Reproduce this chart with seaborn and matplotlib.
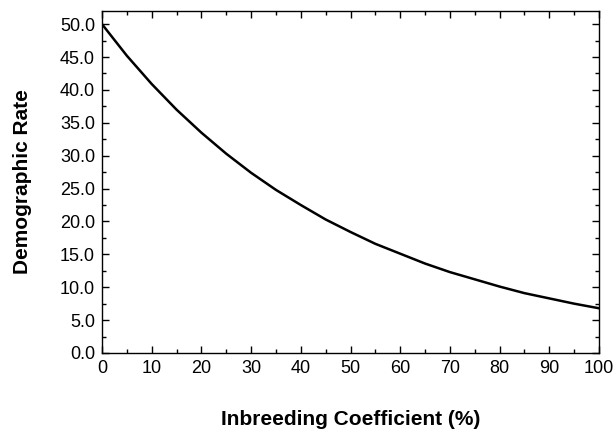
import matplotlib
matplotlib.use("Agg")
import matplotlib.pyplot as plt
import seaborn as sns
import pandas as pd
from matplotlib.ticker import MultipleLocator, FormatStrFormatter

inbreeding = [0, 5, 10, 15, 20, 25, 30, 35, 40, 45, 50, 55, 60, 65, 70, 75, 80, 85, 90, 95, 100]
rate = [50.0, 45.2, 40.9, 37.0, 33.5, 30.3, 27.4, 24.8, 22.5, 20.3, 18.4, 16.6, 15.1, 13.6,
        12.3, 11.2, 10.1, 9.1, 8.3, 7.5, 6.8]

df = pd.DataFrame({"Inbreeding Coefficient (%)": inbreeding, "Demographic Rate": rate})

sns.set_style("ticks")
plt.rcParams['font.family'] = ['Liberation Sans', 'DejaVu Sans']
plt.rcParams['text.color'] = 'black'
plt.rcParams['axes.labelcolor'] = 'black'
plt.rcParams['xtick.color'] = 'black'
plt.rcParams['ytick.color'] = 'black'

fig = plt.figure(figsize=(6.16, 4.32), dpi=100)
ax = fig.add_axes([0.1656, 0.1829, 0.8068, 0.7916])
sns.lineplot(data=df, x="Inbreeding Coefficient (%)", y="Demographic Rate", ax=ax,
             color="black", linewidth=1.8)

ax.set_xlim(0, 100)
ax.set_ylim(0, 52)
ax.xaxis.set_major_locator(MultipleLocator(10))
ax.xaxis.set_minor_locator(MultipleLocator(5))
ax.yaxis.set_major_locator(MultipleLocator(5))
ax.yaxis.set_minor_locator(MultipleLocator(2.5))
ax.yaxis.set_major_formatter(FormatStrFormatter("%.1f"))
ax.tick_params(which="both", direction="in", top=True, right=True, color="black",
               labelcolor="black")
ax.tick_params(which="major", length=5, width=1, labelsize=13, pad=5)
ax.tick_params(which="minor", length=3, width=1)
for s in ax.spines.values():
    s.set_color("black")
    s.set_linewidth(1)
ax.set_xlabel("Inbreeding Coefficient (%)", fontsize=15, fontweight="bold", labelpad=24)
ax.set_ylabel("Demographic Rate", fontsize=15, fontweight="bold", labelpad=20)

fig.savefig("out.png", dpi=100)
